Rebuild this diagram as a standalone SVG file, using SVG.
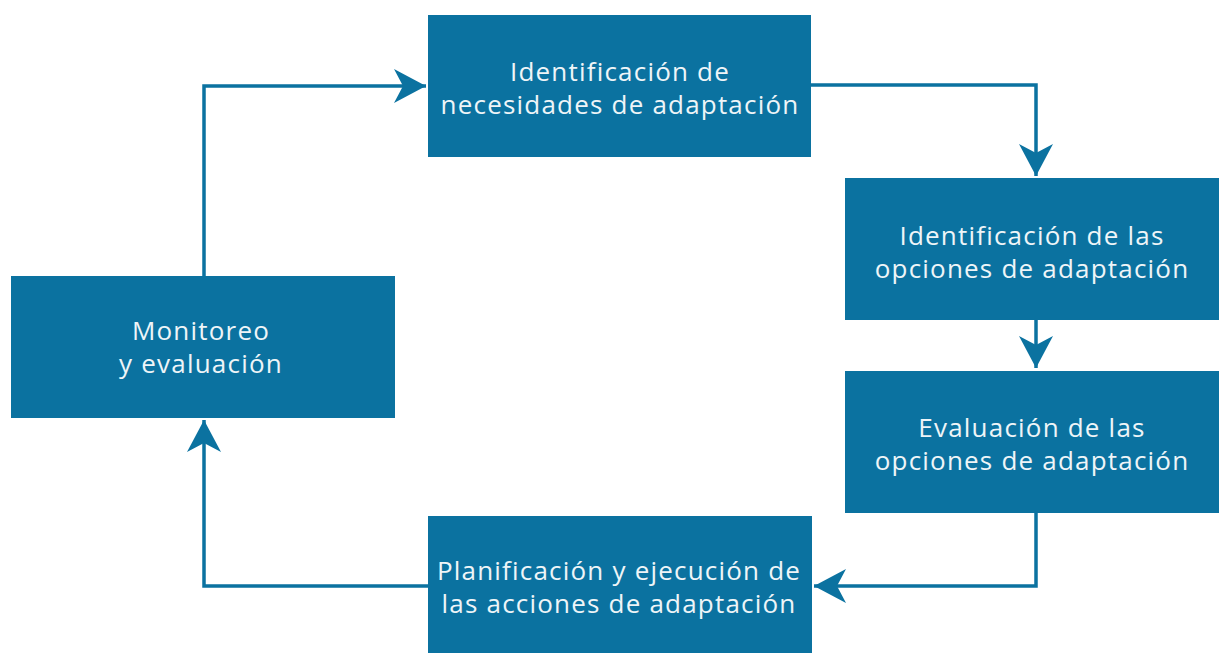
<svg xmlns="http://www.w3.org/2000/svg" width="1219" height="653" viewBox="0 0 1219 653">
<style>
.box{fill:#0b72a0}
.t{font-family:"Open Sans","Noto Sans",sans-serif;font-size:26px;letter-spacing:1.2px;fill:#eef5f8;text-anchor:middle}
.c{fill:none;stroke:#0b72a0;stroke-width:3.5}
</style>
<defs>
<marker id="ah" markerUnits="userSpaceOnUse" markerWidth="40" markerHeight="40" viewBox="-34 -20 38 40" refX="0" refY="0" orient="auto">
<path d="M0,0 L-32,-17 L-23,0 L-32,17 Z" fill="#0b72a0"/>
</marker>
</defs>
<rect width="1219" height="653" fill="#ffffff"/>
<g id="connectors">
<path class="c" d="M204,276 V86 H426" marker-end="url(#ah)"/>
<path class="c" d="M811,85 H1036 V176" marker-end="url(#ah)"/>
<path class="c" d="M1036,320 V368" marker-end="url(#ah)"/>
<path class="c" d="M1036,513 V586 H814" marker-end="url(#ah)"/>
<path class="c" d="M428,586 H204 V420" marker-end="url(#ah)"/>
</g>
<g id="n1"><rect class="box" x="428" y="15" width="383" height="142"/>
<text class="t" x="620" y="81">Identificación de</text>
<text class="t" x="620" y="114">necesidades de adaptación</text></g>
<g id="n2"><rect class="box" x="845" y="178" width="374" height="142"/>
<text class="t" x="1032" y="245">Identificación de las</text>
<text class="t" x="1032" y="278">opciones de adaptación</text></g>
<g id="n3"><rect class="box" x="845" y="371" width="374" height="142"/>
<text class="t" x="1032" y="437">Evaluación de las</text>
<text class="t" x="1032" y="470">opciones de adaptación</text></g>
<g id="n4"><rect class="box" x="428" y="516" width="384" height="137"/>
<text class="t" x="619" y="580">Planificación y ejecución de</text>
<text class="t" x="619" y="613">las acciones de adaptación</text></g>
<g id="n5"><rect class="box" x="11" y="276" width="384" height="142"/>
<text class="t" x="201" y="340">Monitoreo</text>
<text class="t" x="201" y="373">y evaluación</text></g>
</svg>
